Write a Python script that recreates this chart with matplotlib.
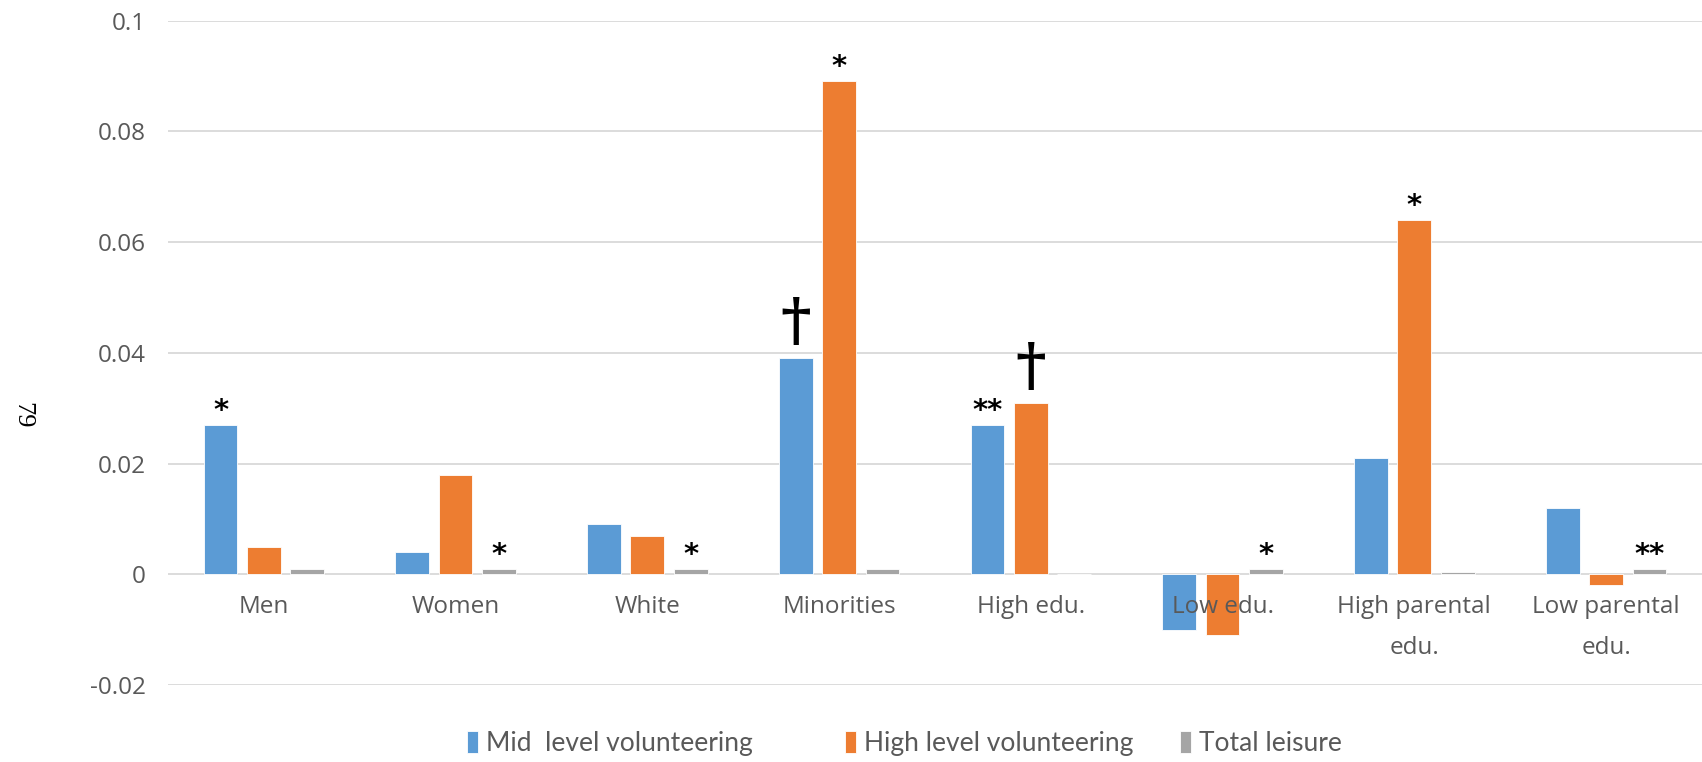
import numpy as np
import matplotlib
matplotlib.use("Agg")
import matplotlib.pyplot as plt

# group labels and effect sizes per subgroup
groups = ["Men", "Women", "White", "Minorities", "High edu.", "Low edu.",
          "High parental\nedu.", "Low parental\nedu."]
mid_vol = [0.027, 0.004, 0.009, 0.039, 0.027, -0.010, 0.021, 0.012]
high_vol = [0.005, 0.018, 0.007, 0.089, 0.031, -0.011, 0.064, -0.002]
leisure = [0.001, 0.001, 0.001, 0.001, 0.0, 0.001, 0.0005, 0.001]

# significance marks per series ('' = none)
mid_sig = ["*", "", "", "†", "**", "", "", ""]
high_sig = ["", "", "", "*", "†", "", "*", ""]
leisure_sig = ["", "*", "*", "", "", "*", "", "**"]

series_names = ["Mid  level volunteering", "High level volunteering", "Total leisure"]
colors = ["#5B9BD5", "#ED7D31", "#A5A5A5"]
yticks = [-0.02, 0, 0.02, 0.04, 0.06, 0.08, 0.1]
ytick_labels = ["-0.02", "0", "0.02", "0.04", "0.06", "0.08", "0.1"]

fig = plt.figure(figsize=(17.02, 7.62), dpi=100)
ax = fig.add_axes([0.0987, 0.101, 0.9013, 0.872])

x = np.arange(len(groups))
width = 0.176
step = 0.226
all_vals = [mid_vol, high_vol, leisure]
all_sig = [mid_sig, high_sig, leisure_sig]

# gridlines behind the bars
for yt in yticks:
    ax.axhline(yt, color="#D9D9D9", linewidth=1.3, zorder=0)

bars = []
for i, (vals, col) in enumerate(zip(all_vals, colors)):
    b = ax.bar(x + (i - 1) * step, vals, width, color=col, edgecolor="white",
               linewidth=0.6, zorder=3)
    bars.append(b)

# significance marks above the bars
for i, (vals, sigs) in enumerate(zip(all_vals, all_sig)):
    for j, s in enumerate(sigs):
        if not s:
            continue
        top = max(vals[j], 0)
        if s == "†":
            ax.annotate(s, (x[j] + (i - 1) * step, top), xytext=(0, 5),
                        textcoords="offset points", ha="center", va="bottom",
                        fontsize=42, family="DejaVu Serif", fontweight="bold",
                        color="black")
        else:
            ax.annotate(s, (x[j] + (i - 1) * step, top), xytext=(0, 0),
                        textcoords="offset points", ha="center", va="bottom",
                        fontsize=21, color="black", fontweight="bold")

ax.set_xlim(-0.5, len(groups) - 0.5)
ax.set_ylim(-0.02, 0.1)
ax.set_yticks(yticks)
ax.set_yticklabels(ytick_labels)
ax.set_xticks(x)
ax.set_xticklabels(groups)

for side in ["top", "right", "left", "bottom"]:
    ax.spines[side].set_visible(False)
ax.spines["bottom"].set_position(("data", 0))
# category labels sit on top of the bars (e.g. "Low edu.")
ax.xaxis.set_zorder(4)
ax.tick_params(axis="both", length=0, labelcolor="#595959", labelsize=17.5)
ax.tick_params(axis="x", pad=15)
ax.tick_params(axis="y", pad=16)
for lbl in ax.get_xticklabels() + ax.get_yticklabels():
    lbl.set_family("Open Sans")
    lbl.set_linespacing(1.95)

# legend entries placed separately along the bottom
leg_x = [0.2665, 0.4885, 0.6855]
for b, name, lx in zip(bars, series_names, leg_x):
    fig.legend(handles=[b], labels=[name], loc="center left",
               bbox_to_anchor=(lx, 0.024), frameon=False, handlelength=0.42,
               handleheight=0.9, handletextpad=0.3, borderpad=0,
               prop={"family": "Lato", "size": 19},
               labelcolor="#595959")

fig.text(0.013, 0.455, "79", rotation=-90, family="Liberation Serif",
         fontsize=19, ha="center", va="center")

fig.savefig("out.png", dpi=100)
